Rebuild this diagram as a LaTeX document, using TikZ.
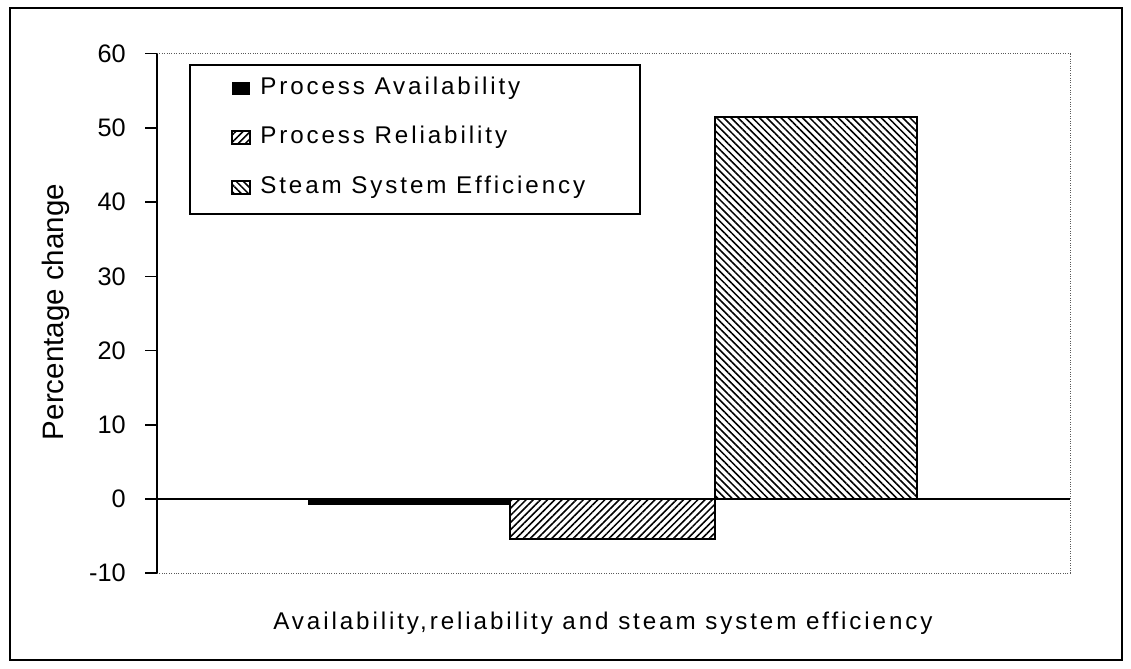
\documentclass[tikz,border=0pt]{standalone}
\usepackage{fontspec}
\setmainfont{Liberation Sans}[LetterSpace=12]
\newfontfamily\plainsans{Liberation Sans}
\usetikzlibrary{patterns.meta}

\tikzset{
  lbl/.style={font=\fontsize{17.2}{19}\selectfont, inner sep=0pt},
  ticklbl/.style={font=\plainsans\fontsize{18}{20}\selectfont, inner sep=0pt, anchor=east},
  ylbl/.style={font=\plainsans\fontsize{21}{23}\selectfont, inner sep=0pt},
  barline/.style={draw=black, line width=1.2pt},
  hatchup/.style={pattern={Lines[angle=45,distance=3.6pt,line width=1.1pt]}},
  hatchdown/.style={pattern={Lines[angle=-45,distance=3.6pt,line width=1.1pt]}},
}

\begin{document}
\begin{tikzpicture}
        \useasboundingbox (0,0) rectangle (28.275,16.7);

        % Внешняя рамка
        \draw[line width=1.3pt] (0.25,0.2) rectangle (28.05,16.5);

        % Область графика: по y одна единица = 1 процент
        \begin{scope}[shift={(3.925,4.225)}, y=0.1855cm]
        % Пунктирная граница области построения
        \draw[gray!70!black, densely dotted, line width=0.7pt] (0,60) -- (22.825,60) -- (22.825,-10) -- (0,-10);

        % Столбцы
        \fill[black] (3.775,0) rectangle (8.825,-0.8);
        \draw[barline, hatchup] (8.825,0) rectangle (13.95,-5.4);
        \draw[barline, hatchdown] (13.95,0) rectangle (19.0,51.5);

        % Линия нуля
        \draw[line width=1.2pt] (0,0) -- (22.825,0);

        % Ось y и деления
        \draw[line width=1.2pt] (0,-10) -- (0,60);
        \draw[line width=1pt] (-0.3,60) -- (0,60); \draw[line width=1pt] (-0.3,50) -- (0,50);
        \draw[line width=1pt] (-0.3,40) -- (0,40); \draw[line width=1pt] (-0.3,30) -- (0,30);
        \draw[line width=1pt] (-0.3,20) -- (0,20); \draw[line width=1pt] (-0.3,10) -- (0,10);
        \draw[line width=1pt] (-0.3,0) -- (0,0);   \draw[line width=1pt] (-0.3,-10) -- (0,-10);

        % Подписи делений
        \node[ticklbl] (t60) at (-0.775,60) {60}; \node[ticklbl] (t50) at (-0.775,50) {50};
        \node[ticklbl] (t40) at (-0.775,40) {40}; \node[ticklbl] (t30) at (-0.775,30) {30};
        \node[ticklbl] (t20) at (-0.775,20) {20}; \node[ticklbl] (t10) at (-0.775,10) {10};
        \node[ticklbl] (t0) at (-0.775,0) {0};    \node[ticklbl] (tm10) at (-0.775,-10) {-10};
        \end{scope}

        % Подписи осей
        \node[ylbl, rotate=90] (ytitle) at (1.4,8.9) {Percentage change};
        \node[lbl, anchor=base] (xtitle) at (15.075,0.975) {Availability,reliability and steam system efficiency};

        % Легенда
        \draw[line width=1pt, fill=white] (4.75,11.35) rectangle (16.0,15.075);
        \fill[black] (5.8,14.325) rectangle (6.25,14.65);
        \draw[line width=0.9pt, hatchup] (5.8,13.1) rectangle (6.25,13.425);
        \draw[line width=0.9pt, hatchdown] (5.8,11.85) rectangle (6.25,12.175);
        \node[lbl, anchor=base west] (leg1) at (6.5,14.325) {Process Availability};
        \node[lbl, anchor=base west] (leg2) at (6.5,13.1) {Process Reliability};
        \node[lbl, anchor=base west] (leg3) at (6.5,11.85) {Steam System Efficiency};
\end{tikzpicture}
\end{document}
